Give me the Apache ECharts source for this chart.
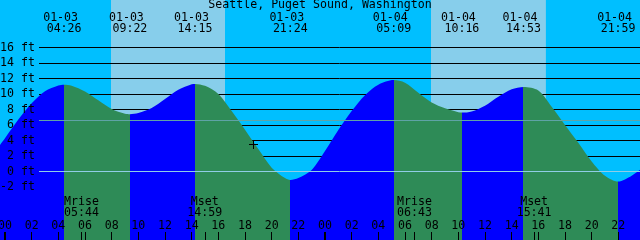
<!DOCTYPE html>
<html><head><meta charset="utf-8">
<script src="https://cdn.jsdelivr.net/npm/echarts@6/dist/echarts.min.js"></script>
<style>html,body{margin:0;padding:0;background:#00BFFF}#c{width:640px;height:240px}</style>
</head><body><div id="c"></div>
<script>
// ---------------- data ----------------
const chartTitle = 'Seattle, Puget Sound, Washington';

const tideTimes = [
  '01-02 23:00','01-03 00:00','01-03 01:00','01-03 02:00','01-03 03:00','01-03 04:00','01-03 04:26',
  '01-03 05:00','01-03 06:00','01-03 07:00','01-03 08:00','01-03 09:00','01-03 09:22',
  '01-03 10:00','01-03 11:00','01-03 12:00','01-03 13:00','01-03 14:00','01-03 14:15',
  '01-03 15:00','01-03 16:00','01-03 17:00','01-03 18:00','01-03 19:00','01-03 20:00','01-03 21:00','01-03 21:24',
  '01-03 22:00','01-03 23:00','01-04 00:00','01-04 01:00','01-04 02:00','01-04 03:00','01-04 04:00','01-04 05:09',
  '01-04 06:00','01-04 07:00','01-04 08:00','01-04 09:00','01-04 10:00','01-04 10:16',
  '01-04 11:00','01-04 12:00','01-04 13:00','01-04 14:00','01-04 14:53',
  '01-04 16:00','01-04 17:00','01-04 18:00','01-04 19:00','01-04 20:00','01-04 21:00','01-04 21:59',
  '01-04 23:00','01-05 00:00'
];
const tideLevels = [
  2.0, 4.3, 6.7, 8.8, 10.35, 11.1, 11.2,
  11.08, 10.33, 9.18, 8.07, 7.45, 7.4,
  7.55, 8.2, 9.35, 10.55, 11.25, 11.3,
  11.05, 10.0, 7.8, 5.4, 2.9, 0.5, -0.85, -1.1,
  -0.85, 0.2, 2.65, 5.35, 7.8, 9.85, 11.2, 11.8,
  11.45, 10.15, 8.9, 8.15, 7.65, 7.6,
  7.75, 8.5, 9.65, 10.6, 10.9,
  10.45, 8.35, 6.0, 3.7, 1.3, -0.55, -1.3,
  -0.55, 0.75
];

const extremeTimes = ['01-03 04:26','01-03 09:22','01-03 14:15','01-03 21:24','01-04 05:09','01-04 10:16','01-04 14:53','01-04 21:59'];
const extremeKinds = ['high','low','high','low','high','low','high','low'];

const moonEvents = ['Mrise','Mset','Mrise','Mset'];
const moonTimes = ['01-03 05:44','01-03 14:59','01-04 06:43','01-04 15:41'];

const sunriseTimes = ['01-03 07:57','01-04 07:57'];
const sunsetTimes  = ['01-03 16:30','01-04 16:34'];

const hourTickHours  = [0,2,4,6,8,10,12,14,16,18,20,22,24,26,28,30,32,34,36,38,40,42,44,46];
const hourTickLabels = ['00','02','04','06','08','10','12','14','16','18','20','22','00','02','04','06','08','10','12','14','16','18','20','22'];
const midnightHours = [0, 24];

const levelTicks = [-2,0,2,4,6,8,10,12,14,16];
const levelUnit = 'ft';
const datumLevel = 0;
const meanSeaLevel = 6.58;

const nowTime = '01-03 18:37';
const nowLevel = 3.55;

// ---------------- helpers ----------------
function toHours(s) {
  const [md, hm] = s.split(' ');
  const day = +md.split('-')[1];
  const [H, M] = hm.split(':').map(Number);
  return (day - 3) * 24 + H + M / 60;
}
const FONT = 'DejaVu Sans Mono';
const FS = 11.6;
const C_DAY = '#87CEEB', C_NIGHT = '#00BFFF', C_FLOOD = '#0000FF', C_EBB = '#2E8B57';
const C_DATUM = '#90CDE6', C_MSL = '#5FA3A6';

const xMin = -0.375, xMax = 47.625;           // 48 h window
const zeroY = 171.5, pxPerFt = 7.75, H = 240;
const yMax0 = zeroY / pxPerFt, yMin0 = -(H - zeroY) / pxPerFt;

const tideData = tideTimes.map((t, i) => [toHours(t), tideLevels[i]]);
const extremeHours = extremeTimes.map(toHours);
const extremeLabel = {};
extremeTimes.forEach((t, i) => { extremeLabel[extremeHours[i].toFixed(4)] = t.split(' '); });
const moonHours = moonTimes.map(toHours);
const moonLabel = {};
moonTimes.forEach((t, i) => { moonLabel[moonHours[i].toFixed(4)] = [moonEvents[i], t.split(' ')[1]]; });
const hourLabel = {};
hourTickHours.forEach((h, i) => { hourLabel[h.toFixed(4)] = hourTickLabels[i]; });

// rising (flood) before a high, falling (ebb) before a low
const pieces = [];
let prev = null;
extremeHours.forEach((h, i) => {
  const color = extremeKinds[i] === 'high' ? C_FLOOD : C_EBB;
  const p = { lt: h, color };
  if (prev !== null) p.gte = prev;
  pieces.push(p);
  prev = h;
});
pieces.push({ gte: prev, color: extremeKinds[extremeKinds.length - 1] === 'low' ? C_FLOOD : C_EBB });

const dayAreas = sunriseTimes.map((s, i) => [{ xAxis: toHours(s) }, { xAxis: toHours(sunsetTimes[i]) }]);

const baseX = {
  type: 'value', min: xMin, max: xMax, gridIndex: 0,
  axisLine: { show: false, onZero: false }, splitLine: { show: false }, z: 10
};
const txt = { fontFamily: FONT, fontSize: FS, color: '#000' };

const option = {
  animation: false,
  backgroundColor: C_NIGHT,
  title: {
    text: chartTitle, left: 'center', top: -1, padding: 0,
    textStyle: { fontFamily: FONT, fontSize: FS, fontWeight: 'normal', color: '#000' }
  },
  grid: [
    { left: 0, right: 0, top: 0, bottom: 0, outerBoundsMode: 'none', containLabel: false },
    { left: 39, right: 0, top: zeroY - 16 * pxPerFt, height: 18 * pxPerFt, outerBoundsMode: 'none', containLabel: false }
  ],
  xAxis: [
    Object.assign({}, baseX, {
      position: 'bottom',
      axisTick: { show: true, inside: true, length: 8, customValues: hourTickHours, lineStyle: { color: '#000', width: 1 } },
      axisLabel: Object.assign({ show: true, inside: true, margin: 8, customValues: hourTickHours,
        formatter: v => hourLabel[v.toFixed(4)] || '' }, txt)
    }),
    Object.assign({}, baseX, {
      position: 'bottom',
      axisTick: { show: true, inside: true, length: 8, customValues: midnightHours, lineStyle: { color: '#000', width: 2 } },
      axisLabel: { show: false }
    }),
    Object.assign({}, baseX, {
      position: 'bottom',
      axisTick: { show: true, inside: true, length: 8, customValues: moonHours, lineStyle: { color: '#000', width: 1 } },
      axisLabel: Object.assign({ show: true, inside: true, margin: 21, lineHeight: 11.5, customValues: moonHours,
        formatter: v => { const m = moonLabel[v.toFixed(4)]; return m ? m[0] + '\n' + m[1] : ''; } }, txt)
    }),
    Object.assign({}, baseX, {
      position: 'top',
      axisTick: { show: false },
      axisLabel: {
        show: true, inside: true, margin: 12, customValues: extremeHours,
        formatter: v => { const e = extremeLabel[v.toFixed(4)]; return e ? '{d|' + e[0] + '}\n{t|' + e[1] + '}' : ''; },
        rich: {
          d: Object.assign({ lineHeight: 11.5, padding: [0, 7, 0, 0] }, txt),
          t: Object.assign({ lineHeight: 11.5 }, txt)
        }
      }
    }),
    { type: 'value', gridIndex: 1, min: 0, max: 1, show: false }
  ],
  yAxis: [
    { type: 'value', gridIndex: 0, min: yMin0, max: yMax0, show: false },
    { type: 'value', gridIndex: 1, min: levelTicks[0], max: levelTicks[levelTicks.length - 1], interval: 2,
      position: 'left', z: 1,
      axisLine: { show: false, onZero: false }, axisTick: { show: false }, axisLabel: { show: false },
      splitLine: { show: true, lineStyle: { color: '#000', width: 1, type: 'solid' } } },
    { type: 'value', gridIndex: 1, min: levelTicks[0], max: levelTicks[levelTicks.length - 1], interval: 2,
      position: 'left', z: 10,
      axisLine: { show: false, onZero: false }, axisTick: { show: false }, splitLine: { show: false },
      axisLabel: Object.assign({ show: true, margin: 4, formatter: v => v + ' ' + levelUnit }, txt) }
  ],
  visualMap: {
    type: 'piecewise', show: false, dimension: 0, seriesIndex: 1, pieces
  },
  series: [
    {
      name: 'daylight', type: 'line', xAxisIndex: 0, yAxisIndex: 0, data: [], z: 0,
      markArea: { silent: true, z: 0, itemStyle: { color: C_DAY }, data: dayAreas }
    },
    {
      name: 'tide', type: 'line', xAxisIndex: 0, yAxisIndex: 0, z: 2,
      data: tideData, smooth: 0.3, symbol: 'none', showSymbol: false,
      lineStyle: { width: 0 }, areaStyle: { opacity: 1, origin: 'start' }
    },
    {
      name: 'levels', type: 'line', xAxisIndex: 4, yAxisIndex: 1, data: [], z: 4,
      markLine: {
        silent: true, z: 4, symbol: ['none', 'none'], label: { show: false },
        lineStyle: { width: 1, type: 'solid' },
        data: [
          { yAxis: datumLevel, lineStyle: { color: C_DATUM, width: 1, type: 'solid' } },
          { yAxis: meanSeaLevel, lineStyle: { color: C_MSL, width: 1, type: 'solid' } }
        ]
      }
    },
    {
      name: 'now', type: 'custom', xAxisIndex: 0, yAxisIndex: 0, z: 5,
      data: [[toHours(nowTime), nowLevel]],
      renderItem: (params, api) => {
        const p = api.coord([api.value(0), api.value(1)]);
        const cx = Math.round(p[0]) + 0.5, cy = Math.round(p[1]) + 0.5;
        const st = { stroke: '#000', lineWidth: 1 };
        return { type: 'group', children: [
          { type: 'line', shape: { x1: cx - 4.5, y1: cy, x2: cx + 4.5, y2: cy }, style: st },
          { type: 'line', shape: { x1: cx, y1: cy - 4.5, x2: cx, y2: cy + 4.5 }, style: st }
        ] };
      }
    }
  ]
};
const chart = echarts.init(document.getElementById('c'), null, { renderer: 'canvas' });
chart.setOption(option);
</script>
</body></html>
